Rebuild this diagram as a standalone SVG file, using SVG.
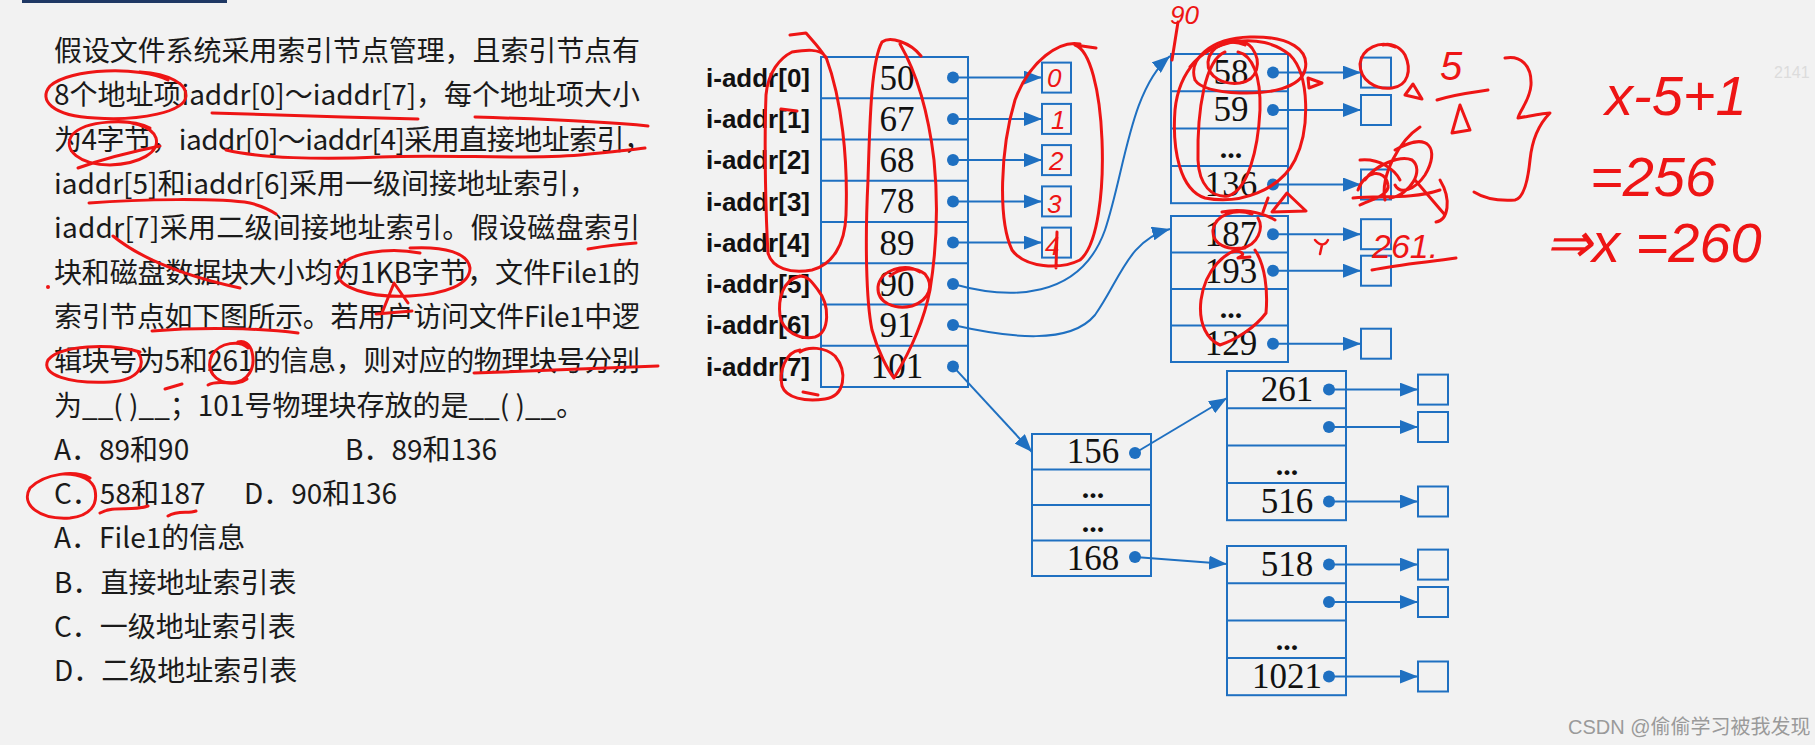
<svg xmlns="http://www.w3.org/2000/svg" width="1815" height="745" viewBox="0 0 1815 745">
<defs>
<marker id="ah" markerWidth="18" markerHeight="14" refX="18" refY="7" orient="auto" markerUnits="userSpaceOnUse"><path d="M0,0 L18,7 L0,14 z" fill="#1f70c1"/></marker>
<style>
.bg{fill:#f2f2f2}
.q{font-family:'Noto Sans CJK SC','Noto Sans CJK TC',sans-serif;font-size:28px;fill:#1a1a1a}
.lb{font-family:'Liberation Sans',Arial,sans-serif;font-size:26px;font-weight:bold;fill:#111;text-anchor:end}
.n{font-family:'Liberation Serif','Times New Roman',serif;font-size:35px;fill:#111;text-anchor:middle}
.el{font-family:'Liberation Serif','Times New Roman',serif;font-size:30px;font-weight:bold;fill:#111;text-anchor:middle}
.box{fill:none;stroke:#1f70c1;stroke-width:2}
.sep{stroke:#1f70c1;stroke-width:2}
.dot{fill:#1f70c1}
.c{fill:none;stroke:#1f70c1;stroke-width:2}
.r{fill:none;stroke:#ee1515;stroke-width:3;stroke-linecap:round;stroke-linejoin:round}
.rt{font-family:'Liberation Sans',Arial,sans-serif;fill:#ee1515;font-style:italic}
.wm{font-family:'Liberation Sans','Noto Sans CJK SC',sans-serif;font-size:20px;fill:#9a9a9a}
</style>
</defs>
<rect class="bg" x="0" y="0" width="1815" height="745"/>
<rect x="22" y="-2" width="205" height="5" fill="#1f3864"/>

<g id="question">
<text class="q" x="54" y="61" textLength="586" lengthAdjust="spacing">假设文件系统采用索引节点管理，且索引节点有</text>
<text class="q" x="54" y="105" textLength="586" lengthAdjust="spacing">8个地址项iaddr[0]～iaddr[7]，每个地址项大小</text>
<text class="q" x="54" y="150" textLength="598" lengthAdjust="spacing">为4字节，iaddr[0]～iaddr[4]采用直接地址索引，</text>
<text class="q" x="54" y="194">iaddr[5]和iaddr[6]采用一级间接地址索引，</text>
<text class="q" x="54" y="238" textLength="586" lengthAdjust="spacing">iaddr[7]采用二级间接地址索引。假设磁盘索引</text>
<text class="q" x="54" y="283" textLength="586" lengthAdjust="spacing">块和磁盘数据块大小均为1KB字节，文件File1的</text>
<text class="q" x="54" y="327" textLength="586" lengthAdjust="spacing">索引节点如下图所示。若用户访问文件File1中逻</text>
<text class="q" x="54" y="371" textLength="586" lengthAdjust="spacing">辑块号为5和261的信息，则对应的物理块号分别</text>
<text class="q" x="54" y="416">为__( )__；101号物理块存放的是__( )__。</text>
<text class="q" x="54" y="460">A．89和90</text>
<text class="q" x="345" y="460">B．89和136</text>
<text class="q" x="54" y="504">C．58和187</text>
<text class="q" x="244" y="504">D．90和136</text>
<text class="q" x="54" y="548">A．File1的信息</text>
<text class="q" x="54" y="593">B．直接地址索引表</text>
<text class="q" x="54" y="637">C．一级地址索引表</text>
<text class="q" x="54" y="681">D．二级地址索引表</text>
</g>

<g id="inode">
<rect class="box" x="821" y="57" width="147" height="330"/>
<path class="sep" d="M821 98.25H968M821 139.5H968M821 180.75H968M821 222H968M821 263.25H968M821 304.5H968M821 345.75H968"/>
<text class="lb" x="810" y="87">i-addr[0]</text>
<text class="lb" x="810" y="128">i-addr[1]</text>
<text class="lb" x="810" y="169">i-addr[2]</text>
<text class="lb" x="810" y="211">i-addr[3]</text>
<text class="lb" x="810" y="252">i-addr[4]</text>
<text class="lb" x="810" y="293">i-addr[5]</text>
<text class="lb" x="810" y="334">i-addr[6]</text>
<text class="lb" x="810" y="376">i-addr[7]</text>
<text class="n" x="897" y="90">50</text>
<text class="n" x="897" y="131">67</text>
<text class="n" x="897" y="172">68</text>
<text class="n" x="897" y="213">78</text>
<text class="n" x="897" y="255">89</text>
<text class="n" x="897" y="296">90</text>
<text class="n" x="897" y="337">91</text>
<text class="n" x="897" y="378">101</text>
<g class="dot"><circle cx="953" cy="77.6" r="6"/><circle cx="953" cy="118.9" r="6"/><circle cx="953" cy="160.1" r="6"/><circle cx="953" cy="201.4" r="6"/><circle cx="953" cy="242.6" r="6"/><circle cx="953" cy="283.9" r="6"/><circle cx="953" cy="325.1" r="6"/><circle cx="953" cy="366.4" r="6"/></g>
</g>

<g id="direct-blocks">
<rect class="box" x="1042" y="62.6" width="29" height="30"/>
<rect class="box" x="1042" y="103.9" width="29" height="30"/>
<rect class="box" x="1042" y="145.1" width="29" height="30"/>
<rect class="box" x="1042" y="186.4" width="29" height="30"/>
<rect class="box" x="1042" y="227.6" width="29" height="30"/>
</g>

<g id="index-block-90">
<rect class="box" x="1171" y="54" width="117" height="149.2"/>
<path class="sep" d="M1171 91.3H1288M1171 128.6H1288M1171 165.9H1288"/>
<text class="n" x="1231" y="84">58</text>
<text class="n" x="1231" y="121">59</text>
<text class="el" x="1231" y="158">...</text>
<text class="n" x="1231" y="196">136</text>
<g class="dot"><circle cx="1273" cy="72.6" r="6"/><circle cx="1273" cy="110" r="6"/><circle cx="1273" cy="184.5" r="6"/></g>
</g>

<g id="index-block-91">
<rect class="box" x="1171" y="216" width="117" height="146"/>
<path class="sep" d="M1171 252.5H1288M1171 289H1288M1171 325.5H1288"/>
<text class="n" x="1231" y="246">187</text>
<text class="n" x="1231" y="283">193</text>
<text class="el" x="1231" y="318">...</text>
<text class="n" x="1231" y="355">129</text>
<g class="dot"><circle cx="1273" cy="234.2" r="6"/><circle cx="1273" cy="270.7" r="6"/><circle cx="1273" cy="343.7" r="6"/></g>
</g>

<g id="leaf-blocks-1">
<rect class="box" x="1361" y="57.6" width="30" height="30"/>
<rect class="box" x="1361" y="95" width="30" height="30"/>
<rect class="box" x="1361" y="169.5" width="30" height="30"/>
<rect class="box" x="1361" y="219.2" width="30" height="30"/>
<rect class="box" x="1361" y="255.7" width="30" height="30"/>
<rect class="box" x="1361" y="328.7" width="30" height="30"/>
</g>

<g id="index-block-101">
<rect class="box" x="1032" y="434" width="119" height="142"/>
<path class="sep" d="M1032 469.5H1151M1032 505H1151M1032 540.5H1151"/>
<text class="n" x="1093" y="463">156</text>
<text class="el" x="1093" y="498">...</text>
<text class="el" x="1093" y="532">...</text>
<text class="n" x="1093" y="570">168</text>
<g class="dot"><circle cx="1135" cy="453" r="6"/><circle cx="1135" cy="557" r="6"/></g>
</g>

<g id="index-block-156">
<rect class="box" x="1227" y="371" width="119" height="149.2"/>
<path class="sep" d="M1227 408.3H1346M1227 445.6H1346M1227 482.9H1346"/>
<text class="n" x="1287" y="401">261</text>
<text class="el" x="1287" y="475">...</text>
<text class="n" x="1287" y="513">516</text>
<g class="dot"><circle cx="1329" cy="389.6" r="6"/><circle cx="1329" cy="427" r="6"/><circle cx="1329" cy="501.5" r="6"/></g>
</g>

<g id="index-block-168">
<rect class="box" x="1227" y="546" width="119" height="149.2"/>
<path class="sep" d="M1227 583.3H1346M1227 620.6H1346M1227 657.9H1346"/>
<text class="n" x="1287" y="576">518</text>
<text class="el" x="1287" y="650">...</text>
<text class="n" x="1287" y="688">1021</text>
<g class="dot"><circle cx="1329" cy="564.6" r="6"/><circle cx="1329" cy="602" r="6"/><circle cx="1329" cy="676.5" r="6"/></g>
</g>

<g id="leaf-blocks-2">
<rect class="box" x="1418" y="374.6" width="30" height="30"/>
<rect class="box" x="1418" y="412" width="30" height="30"/>
<rect class="box" x="1418" y="486.5" width="30" height="30"/>
<rect class="box" x="1418" y="549.6" width="30" height="30"/>
<rect class="box" x="1418" y="587" width="30" height="30"/>
<rect class="box" x="1418" y="661.5" width="30" height="30"/>
</g>

<g id="connectors" class="c" marker-end="url(#ah)">
<path d="M953 77.6H1042"/>
<path d="M953 118.9H1042"/>
<path d="M953 160.1H1042"/>
<path d="M953 201.4H1042"/>
<path d="M953 242.6H1042"/>
<path d="M953 284 C1010 300 1080 300 1105 230 C1125 170 1130 90 1170 56"/>
<path d="M953 325 C1010 338 1070 345 1095 315 C1120 280 1128 240 1170 229"/>
<path d="M953 366.4 L1032 452"/>
<path d="M1273 72.6H1361"/>
<path d="M1273 110H1361"/>
<path d="M1273 184.5H1361"/>
<path d="M1273 234.2H1361"/>
<path d="M1273 270.7H1361"/>
<path d="M1273 343.7H1361"/>
<path d="M1135 453 L1227 398"/>
<path d="M1135 557 L1227 564"/>
<path d="M1329 389.6H1418"/>
<path d="M1329 427H1418"/>
<path d="M1329 501.5H1418"/>
<path d="M1329 564.6H1418"/>
<path d="M1329 602H1418"/>
<path d="M1329 676.5H1418"/>
</g>

<g id="annotations">
<path class="r" d="M168 80 C140 66 70 68 50 86 C38 100 52 116 95 118 C140 121 185 112 186 96 C187 84 170 74 140 72"/>
<path class="r" d="M212 113 C270 115 350 117 418 119"/>
<path class="r" d="M475 117 C540 119 600 121 648 126"/>
<path class="r" d="M150 128 C130 118 85 120 72 135 C62 150 80 165 110 165 C140 164 160 152 156 138 C152 126 130 120 110 122 M78 168 C100 160 130 152 160 146"/>
<path class="r" d="M226 150 C260 158 320 160 380 157 C450 154 520 160 580 155 C610 152 630 150 645 148"/>
<path class="r" d="M89 203 C140 199 220 198 250 203 C262 206 270 210 276 214"/>
<path class="r" d="M113 236 C140 258 180 275 240 288"/>
<path class="r" d="M588 249 C605 246 620 244 636 243"/>
<path class="r" d="M420 253 C390 247 345 252 338 270 C334 288 370 298 410 296 C445 294 470 285 470 268 C468 253 445 246 410 248 M382 313 L394 283 L408 303 M376 314 L412 311"/>
<circle cx="48" cy="287" r="2" fill="#ee1515"/>
<path class="r" d="M152 331 C200 327 260 328 298 333"/>
<path class="r" d="M140 352 C110 343 60 345 48 360 C40 375 70 384 110 382 C140 380 146 365 138 352"/>
<path class="r" d="M248 348 C240 340 220 342 212 355 C205 370 215 383 232 383 C248 382 256 368 252 352 C250 344 244 340 238 342"/>
<path class="r" d="M474 373 C540 371 600 368 658 366"/>
<path class="r" d="M165 389 L182 384 M208 385 C220 378 235 388 247 379"/>
<path class="r" d="M90 478 C75 470 45 473 30 488 C20 505 40 520 70 518 C90 516 98 505 95 490 C93 480 80 474 65 474"/>
<path class="r" d="M100 513 C115 505 130 512 148 506 M168 516 C178 510 188 514 196 511"/>

<path class="r" d="M792 52 C780 58 768 72 766 95 C764 150 766 220 768 253 C772 268 790 274 812 270 C832 265 845 245 846 215 C848 160 842 100 826 57 C820 48 805 50 792 52 M790 35 L806 33 C812 40 820 48 826 58 M781 109 L797 111"/>
<path class="r" d="M800 276 C782 280 778 300 780 316 C783 332 800 340 815 337 C830 332 830 305 818 290 C812 282 808 276 800 276"/>
<path class="r" d="M800 350 C785 352 779 372 782 386 C786 398 805 402 825 399 C845 396 848 372 835 356 C825 347 808 346 800 352 M803 392 L818 395"/>
<path class="r" d="M921 56 C910 42 890 36 882 42 C872 60 870 110 868 180 C865 240 866 300 872 330 C878 352 888 370 894 378 C905 360 922 330 930 290 C938 240 938 200 934 160 C928 110 915 70 900 44"/>
<path class="r" d="M920 272 C905 262 880 270 878 287 C877 303 895 310 912 306 C930 300 934 285 925 274 C915 266 900 268 890 276"/>
<path class="r" d="M1080 44 C1060 40 1030 60 1015 100 C1000 150 998 220 1012 250 C1025 268 1060 270 1080 260 C1098 245 1104 190 1102 140 C1100 90 1090 50 1075 45 L1096 48 M1057 232 L1056 268"/>
<text class="rt" x="1047" y="87" font-size="26">0</text>
<text class="rt" x="1051" y="129" font-size="26">1</text>
<text class="rt" x="1049" y="170" font-size="26">2</text>
<text class="rt" x="1047" y="213" font-size="26">3</text>
<text class="rt" x="1045" y="255" font-size="26">4</text>

<path class="r" d="M1190 67 C1210 40 1260 30 1290 55 C1310 75 1310 130 1295 160 C1280 190 1240 205 1205 198 C1180 190 1172 150 1175 110 C1177 90 1183 75 1195 62"/>
<path class="r" d="M1245 45 C1230 38 1210 45 1208 62 C1207 78 1225 85 1240 83 C1258 80 1262 62 1252 48 C1246 40 1232 38 1220 44"/>
<path class="r" d="M1195 80 C1188 60 1210 38 1250 37 C1290 36 1310 50 1305 70 C1300 88 1270 94 1240 93 C1215 92 1200 88 1195 80"/>
<path class="r" d="M1225 52 C1205 60 1197 110 1198 160 C1199 185 1212 198 1228 196 C1248 190 1258 150 1260 110 C1261 75 1252 55 1238 52"/>
<path class="r" d="M1308 78 L1322 83 L1309 88 Z"/>
<path class="r" d="M1263 212 L1268 198 M1272 212 L1287 193 L1306 211 Z"/>
<text class="rt" x="1170" y="24" font-size="26">90</text>
<path class="r" d="M1178 22 L1172 60"/>

<path class="r" d="M1252 214 C1235 208 1215 215 1213 230 C1212 245 1228 250 1242 248 C1258 245 1264 228 1258 218 M1222 212 C1240 208 1262 212 1275 220"/>
<path class="r" d="M1245 248 C1225 250 1205 270 1201 300 C1198 325 1208 340 1220 345 C1235 340 1255 328 1266 313 C1268 290 1265 265 1255 250"/>
<path class="r" d="M1232 252 C1240 250 1248 254 1238 258 L1250 257"/>
<path class="r" d="M1315 240 C1320 246 1325 246 1328 240 M1322 245 L1320 254" style="stroke-width:2.5"/>

<path class="r" d="M1395 47 C1380 40 1362 48 1360 64 C1360 80 1375 90 1392 88 C1408 86 1412 70 1405 55 C1400 46 1390 43 1383 45"/>
<path class="r" d="M1405 95 L1413 84 L1422 99 Z"/>
<text class="rt" x="1440" y="80" font-size="40">5</text>
<path class="r" d="M1437 100 C1455 94 1475 92 1488 90 M1452 133 L1460 105 L1470 130 Z"/>
<path class="r" d="M1505 58 C1520 55 1532 65 1531 85 C1530 100 1520 110 1518 118 C1530 116 1545 113 1550 113 C1538 125 1532 140 1530 160 C1528 180 1524 198 1515 200 C1500 201 1485 199 1474 192"/>
<path class="r" d="M1360 160 C1380 158 1395 170 1400 180 M1420 127 C1400 140 1380 175 1385 200 M1353 198 C1380 195 1410 200 1440 190 M1365 180 C1375 165 1400 155 1412 160 C1425 170 1410 195 1390 198 M1395 150 C1430 130 1440 150 1425 175 C1415 190 1400 195 1395 185 M1415 180 L1445 215 M1440 180 C1452 200 1448 220 1436 222 M1358 190 C1365 170 1385 168 1388 185 C1390 195 1370 200 1360 205"/>
<text class="rt" x="1372" y="258" font-size="34">261.</text>
<path class="r" d="M1372 270 C1400 264 1430 262 1456 258"/>
<text class="rt" x="1605" y="115" font-size="56">x-5+1</text>
<text class="rt" x="1590" y="196" font-size="56">=256</text>
<text class="rt" x="1545" y="262" font-size="56">⇒x =260</text>
</g>

<text x="1774" y="78" font-family="'Liberation Sans',sans-serif" font-size="16" fill="#dcdcdc">2141</text>
<text class="wm" x="1568" y="734">CSDN @偷偷学习被我发现</text>
</svg>
